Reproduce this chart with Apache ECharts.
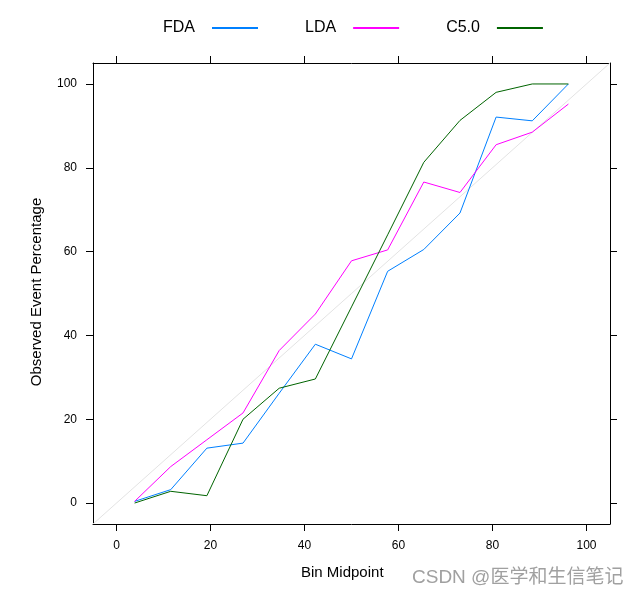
<!DOCTYPE html>
<html>
<head>
<meta charset="utf-8">
<script src="https://cdn.jsdelivr.net/npm/echarts@6/dist/echarts.min.js"></script>
<style>html,body{margin:0;padding:0;background:#fff}#c{width:638px;height:596px}</style>
</head>
<body>
<div id="c"></div>
<script>
const binMidpoints = [3.85, 11.54, 19.23, 26.92, 34.62, 42.31, 50, 57.69, 65.38, 73.08, 80.77, 88.46, 96.15];
const fdaValues  = [0.4, 3.2, 13.1, 14.3, 26.2, 37.9, 34.4, 55.3, 60.5, 69.2, 92.1, 91.2, 100];
const ldaValues  = [0.4, 8.7, 15.1, 21.5, 36.4, 45.1, 57.8, 60.4, 76.6, 74.1, 85.5, 88.5, 95.2];
const c50Values  = [0, 2.8, 1.75, 20.0, 27.4, 29.6, 46.8, 64.0, 81.3, 91.3, 98.0, 100, 100];
const seriesNames = ['FDA', 'LDA', 'C5.0'];
const tickValues = [0, 20, 40, 60, 80, 100];
const axisRange = [-5, 105];
const referenceLine = [[-5, -5], [105, 105]];

const font = '"Liberation Sans", Arial, sans-serif';
const pair = (xs, ys) => xs.map((x, i) => [x, ys[i]]);

const chart = echarts.init(document.getElementById('c'), null, {renderer: 'canvas'});

function axis(pos, showLabel) {
  return {
    type: 'value', position: pos, min: axisRange[0], max: axisRange[1],
    gridIndex: 0,
    axisLine: {show: true, onZero: false, lineStyle: {color: '#000', width: 1}},
    axisTick: {show: true, inside: false, length: 7, customValues: tickValues, lineStyle: {color: '#000', width: 1}},
    axisLabel: {show: showLabel, customValues: tickValues, margin: 16, color: '#000', fontSize: 12, fontFamily: font},
    splitLine: {show: false}
  };
}

const lineSeries = (name, values, color) => ({
  name, type: 'line', data: pair(binMidpoints, values),
  showSymbol: false, symbol: 'none', animation: false,
  lineStyle: {color, width: 1}, itemStyle: {color}, z: 3
});

chart.setOption({
  animation: false,
  backgroundColor: '#fff',
  grid: {left: 93, top: 63, right: 28, bottom: 72, containLabel: false},
  legend: {
    top: 15, left: 158, align: 'right',
    itemWidth: 46, itemHeight: 2, itemGap: 47,
    icon: 'rect',
    textStyle: {fontSize: 16, fontFamily: font, color: '#000', padding: [0, 12, 0, 0]},
    data: seriesNames.map(n => ({name: n, icon: 'rect'}))
  },
  xAxis: [axis('bottom', true), axis('top', false)],
  yAxis: [axis('left', true), axis('right', false)],
  series: [
    {type: 'line', data: referenceLine, showSymbol: false, symbol: 'none', silent: true,
     lineStyle: {color: '#e3e3e3', width: 1}, z: 1, legendHoverLink: false},
    lineSeries(seriesNames[0], fdaValues, '#0080ff'),
    lineSeries(seriesNames[1], ldaValues, '#ff00ff'),
    lineSeries(seriesNames[2], c50Values, '#006400')
  ],
  graphic: [
    {type: 'text', left: 301, top: 565, style: {text: 'Bin Midpoint', fontSize: 15, fontFamily: font, fill: '#000'}},
    {type: 'text', x: 37, y: 292, rotation: Math.PI / 2,
     style: {text: 'Observed Event Percentage', fontSize: 15, fontFamily: font, fill: '#000', align: 'center', verticalAlign: 'middle'}},
    {type: 'text', x: 412, y: 578, style: {text: 'CSDN @医学和生信笔记', fontSize: 19, fontFamily: '"Liberation Sans", "Noto Sans CJK SC", sans-serif', fill: '#a0a0a0', verticalAlign: 'middle'}}
  ]
});
</script>
</body>
</html>
